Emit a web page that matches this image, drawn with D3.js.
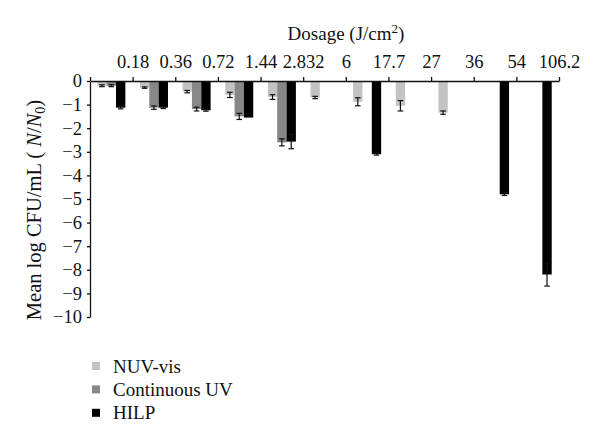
<!doctype html>
<meta charset='utf-8'>
<title>dosage chart</title>
<style type="text/css">
	body { margin:0; background:white; }
	svg { display:block; }
	text { font-family:"Liberation Serif", "DejaVu Serif", serif; fill:#111; }
	.axis path, .axis line { stroke:#111; stroke-width:1.3px; }
</style>
<div id='container'></div>
<script src="https://cdnjs.cloudflare.com/ajax/libs/d3/7.8.5/d3.min.js" charset="utf-8"></script>
<script>

	// values (log reduction, negative)
	var dosages = ['0.18','0.36','0.72','1.44','2.832','6','17.7','27','36','54','106.2']
	var series = ['NUV-vis','Continuous UV','HILP']
	var nuvVis     = [-0.2, -0.28, -0.45, -0.59, -0.68, -0.7, -0.88, -1.05, -1.34, null, null]
	var nuvVisErr  = [0.04, 0.03, 0.05, 0.11, 0.1, 0.05, 0.17, 0.22, 0.07, null, null]
	var contUV     = [-0.2, -1.13, -1.19, -1.5, -2.6, null, null, null, null, null, null]
	var contUVErr  = [0.04, 0.07, 0.08, 0.13, 0.15, null, null, null, null, null, null]
	var hilp       = [-1.13, -1.13, -1.24, -1.55, -2.57, null, -3.1, null, null, -4.8, -8.2]
	var hilpErr    = [0.05, 0.04, 0.04, 0, 0.3, null, 0.04, null, null, 0.05, 0.49]
	var yTicks = [0,-1,-2,-3,-4,-5,-6,-7,-8,-9,-10]
	var colors = ['#c3c3c3','#878787','#000000']

	var values = [nuvVis, contUV, hilp]
	var errors = [nuvVisErr, contUVErr, hilpErr]

	var W = 600, H = 447
	// plot edges (note: "top" is a window global, so use other names)
	var pl = 90, pr = 559, pt = 81, pb = 317

	var svg = d3.select('#container').append('svg')
		.attr('width', W).attr('height', H)

	var x = d3.scaleBand().domain(dosages).range([pl, pr])
	var x1 = d3.scaleBand().domain(series).range([0, x.bandwidth()]).paddingOuter(0.78)
	var y = d3.scaleLinear().domain([0, -10]).range([pt, pb])

	// flatten to one record per bar
	var bars = []
	series.forEach(function(s, si) {
		dosages.forEach(function(d, di) {
			var v = values[si][di]
			if (v == null) return
			bars.push({ s: s, si: si, d: d, v: v, e: errors[si][di] })
		})
	})

	svg.append('g').selectAll('rect').data(bars).enter().append('rect')
		.attr('x', function(b) { return x(b.d) + x1(b.s) })
		.attr('y', y(0))
		.attr('width', x1.bandwidth())
		.attr('height', function(b) { return y(b.v) - y(0) })
		.attr('fill', function(b) { return colors[b.si] })

	// error bars
	var eb = svg.append('g').selectAll('g').data(bars.filter(function(b) { return b.e > 0 }))
		.enter().append('g')
		.attr('transform', function(b) { return 'translate(' + (x(b.d) + x1(b.s) + x1.bandwidth() / 2) + ',0)' })
		.attr('stroke', '#111').attr('stroke-width', 1.2)
	eb.append('line')
		.attr('y1', function(b) { return y(b.v + b.e) })
		.attr('y2', function(b) { return y(b.v - b.e) })
	eb.append('line').attr('x1', -2.8).attr('x2', 2.8)
		.attr('y1', function(b) { return y(b.v + b.e) })
		.attr('y2', function(b) { return y(b.v + b.e) })
	eb.append('line').attr('x1', -2.8).attr('x2', 2.8)
		.attr('y1', function(b) { return y(b.v - b.e) })
		.attr('y2', function(b) { return y(b.v - b.e) })

	// top axis: ticks on band edges, dosage label on right edge of each band
	var edge = d3.scaleLinear().domain([0, dosages.length]).range([pl, pr])
	svg.append('g').attr('class', 'axis')
		.attr('transform', 'translate(0,' + pt + ')')
		.call(d3.axisTop(edge).tickValues(d3.range(dosages.length + 1))
			.tickSize(4).tickSizeOuter(0).tickPadding(9)
			.tickFormat(function(i) { return i > 0 ? dosages[i - 1] : '' }))
		.selectAll('text').style('font-size', '18.5px')

	svg.append('g').attr('class', 'axis')
		.attr('transform', 'translate(' + pl + ',0)')
		.call(d3.axisLeft(y).tickValues(yTicks).tickSize(3).tickSizeOuter(0).tickPadding(5))
		.selectAll('text').style('font-size', '18.5px')

	svg.selectAll('.axis text').attr('fill', '#111')

	var title = svg.append('text').attr('x', 346).attr('y', 40)
		.attr('text-anchor', 'middle').style('font-size', '19px')
	title.append('tspan').text('Dosage (J/cm')
	title.append('tspan').attr('dy', -7).style('font-size', '13px').text('2')
	title.append('tspan').attr('dy', 7).text(')')

	var ylab = svg.append('text')
		.attr('transform', 'translate(41,210) rotate(-90)')
		.attr('text-anchor', 'middle').style('font-size', '20.5px')
	ylab.append('tspan').text('Mean log CFU/mL ( ')
	ylab.append('tspan').style('font-style', 'italic').text('N')
	ylab.append('tspan').text('/')
	ylab.append('tspan').style('font-style', 'italic').text('N')
	ylab.append('tspan').attr('dy', 4).style('font-size', '14px').text('0')
	ylab.append('tspan').attr('dy', -4).text(')')

	// legend
	var leg = svg.append('g').selectAll('g').data(series).enter().append('g')
		.attr('transform', function(s, i) { return 'translate(92,' + (366 + i * 23.4) + ')' })
	leg.append('rect').attr('x', 0).attr('y', -4).attr('width', 8).attr('height', 8)
		.attr('fill', function(s, i) { return colors[i] })
	leg.append('text').attr('x', 21).attr('dy', '0.35em').style('font-size', '19px')
		.text(function(s) { return s })

</script>
